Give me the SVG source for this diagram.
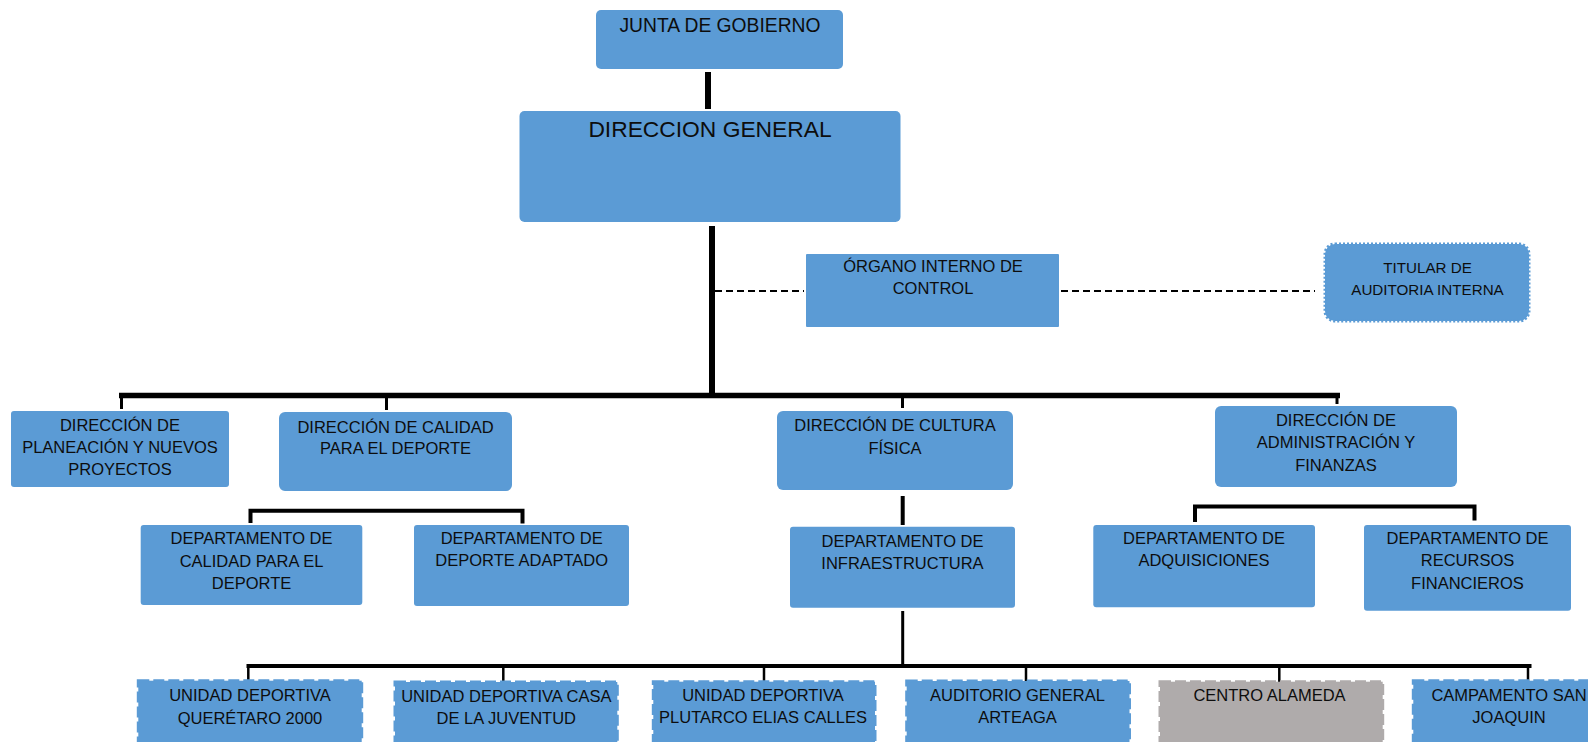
<svg xmlns="http://www.w3.org/2000/svg" width="1588" height="742" viewBox="0 0 1588 742">
<style>
.box{fill:#5b9bd5}
.gray{fill:#afabab}
.dash{stroke-width:3;stroke-dasharray:11 4}
.dot{stroke:#5b9bd5;stroke-width:3;stroke-dasharray:2 2}
text{font-family:"Liberation Sans",Arial,sans-serif;font-size:16.5px;fill:#0d0d0d;text-anchor:middle}
.c{stroke:#000;fill:none}
.d{stroke:#000;stroke-width:2;stroke-dasharray:7 4;fill:none}
</style>
<rect width="1588" height="742" fill="#fff"/>
<g id="connectors">
<line class="c" x1="708" y1="72" x2="708" y2="109" stroke-width="6"/>
<line class="c" x1="712" y1="226" x2="712" y2="398" stroke-width="6"/>
<line class="d" x1="715" y1="291" x2="804" y2="291"/>
<line class="d" x1="1061" y1="291" x2="1315" y2="291"/>
<line class="c" x1="119" y1="395.5" x2="1340" y2="395.5" stroke-width="5.5"/>
<line class="c" x1="121.5" y1="394" x2="121.5" y2="409" stroke-width="3"/>
<line class="c" x1="386.5" y1="394" x2="386.5" y2="410" stroke-width="3"/>
<line class="c" x1="902.5" y1="394" x2="902.5" y2="408" stroke-width="3"/>
<line class="c" x1="1337" y1="394" x2="1337" y2="404" stroke-width="3"/>
<path class="c" d="M250.5,523 V510.7 H522.5 V523.5" stroke-width="4"/>
<line class="c" x1="902.7" y1="496" x2="902.7" y2="525" stroke-width="4"/>
<path class="c" d="M1195,522 V506.5 H1474.5 V520.5" stroke-width="4"/>
<line class="c" x1="902.7" y1="611" x2="902.7" y2="666" stroke-width="3"/>
<line class="c" x1="246.5" y1="666" x2="1531.5" y2="666" stroke-width="4"/>
<line class="c" x1="248.3" y1="665" x2="248.3" y2="680" stroke-width="2.5"/>
<line class="c" x1="503.3" y1="665" x2="503.3" y2="682" stroke-width="2.5"/>
<line class="c" x1="764" y1="665" x2="764" y2="682" stroke-width="2.5"/>
<line class="c" x1="1026" y1="665" x2="1026" y2="682" stroke-width="2.5"/>
<line class="c" x1="1279.3" y1="665" x2="1279.3" y2="682" stroke-width="2.5"/>
<line class="c" x1="1528" y1="665" x2="1528" y2="681" stroke-width="2.5"/>
</g>
<g id="junta">
<rect class="box" x="596" y="10" width="247" height="59" rx="5"/>
<text x="720" y="32" style="font-size:19.3px">JUNTA DE GOBIERNO</text>
</g>
<g id="direccion-general">
<rect class="box" x="519.5" y="111" width="381" height="111" rx="5"/>
<text x="710" y="136.7" style="font-size:22.8px">DIRECCION GENERAL</text>
</g>
<g id="organo">
<rect class="box" x="806" y="254" width="253" height="73" rx="1"/>
<text x="933" y="271.7">ÓRGANO INTERNO DE</text>
<text x="933" y="294.3">CONTROL</text>
</g>
<g id="titular">
<rect class="box dot" x="1325" y="244" width="204" height="77" rx="10"/>
<text x="1427.5" y="273" style="font-size:15.2px">TITULAR DE</text>
<text x="1427.5" y="295" style="font-size:15.2px">AUDITORIA INTERNA</text>
</g>
<g id="planeacion">
<rect class="box" x="11" y="411" width="218" height="76" rx="3"/>
<text x="120" y="430.7">DIRECCIÓN DE</text>
<text x="120" y="452.7">PLANEACIÓN Y NUEVOS</text>
<text x="120" y="475">PROYECTOS</text>
</g>
<g id="calidad">
<rect class="box" x="279" y="412" width="233" height="79" rx="6"/>
<text x="395.5" y="432.7">DIRECCIÓN DE CALIDAD</text>
<text x="395.5" y="454">PARA EL DEPORTE</text>
</g>
<g id="cultura">
<rect class="box" x="777" y="411" width="236" height="79" rx="6"/>
<text x="895" y="431">DIRECCIÓN DE CULTURA</text>
<text x="895" y="454">FÍSICA</text>
</g>
<g id="administracion">
<rect class="box" x="1215" y="406" width="242" height="81" rx="6"/>
<text x="1336" y="425.7">DIRECCIÓN DE</text>
<text x="1336" y="448.3">ADMINISTRACIÓN Y</text>
<text x="1336" y="471">FINANZAS</text>
</g>
<g id="dept-calidad">
<rect class="box" x="140.7" y="525" width="221.6" height="80" rx="3"/>
<text x="251.5" y="544.3">DEPARTAMENTO DE</text>
<text x="251.5" y="567">CALIDAD PARA EL</text>
<text x="251.5" y="589">DEPORTE</text>
</g>
<g id="dept-adaptado">
<rect class="box" x="414" y="525" width="215" height="81" rx="3"/>
<text x="521.7" y="544">DEPARTAMENTO DE</text>
<text x="521.7" y="565.5">DEPORTE ADAPTADO</text>
</g>
<g id="dept-infra">
<rect class="box" x="790" y="526.7" width="225" height="81" rx="3"/>
<text x="902.5" y="546.7">DEPARTAMENTO DE</text>
<text x="902.5" y="568.5">INFRAESTRUCTURA</text>
</g>
<g id="dept-adquisiciones">
<rect class="box" x="1093.3" y="525" width="221.7" height="82.3" rx="3"/>
<text x="1204" y="544">DEPARTAMENTO DE</text>
<text x="1204" y="566">ADQUISICIONES</text>
</g>
<g id="dept-recursos">
<rect class="box" x="1364" y="525" width="207" height="85.7" rx="3"/>
<text x="1467.5" y="544">DEPARTAMENTO DE</text>
<text x="1467.5" y="566">RECURSOS</text>
<text x="1467.5" y="588.5">FINANCIEROS</text>
</g>
<g id="ud-queretaro">
<rect class="box dash" stroke="#5b9bd5" x="138.3" y="680.7" width="223.4" height="80"/>
<text x="250" y="701">UNIDAD DEPORTIVA</text>
<text x="250" y="723.5">QUERÉTARO 2000</text>
</g>
<g id="ud-casa">
<rect class="box dash" stroke="#5b9bd5" x="395" y="682" width="222.3" height="80"/>
<text x="506.3" y="701.7">UNIDAD DEPORTIVA CASA</text>
<text x="506.3" y="724">DE LA JUVENTUD</text>
</g>
<g id="ud-plutarco">
<rect class="box dash" stroke="#5b9bd5" x="653.3" y="681.7" width="221.7" height="80"/>
<text x="763" y="700.7">UNIDAD DEPORTIVA</text>
<text x="763" y="723.3">PLUTARCO ELIAS CALLES</text>
</g>
<g id="auditorio">
<rect class="box dash" stroke="#5b9bd5" x="906.7" y="681" width="222.8" height="80"/>
<text x="1017.5" y="700.7">AUDITORIO GENERAL</text>
<text x="1017.5" y="723.3">ARTEAGA</text>
</g>
<g id="centro-alameda">
<rect class="gray dash" stroke="#afabab" x="1160" y="681.7" width="222.7" height="80"/>
<text x="1269.5" y="700.7">CENTRO ALAMEDA</text>
</g>
<g id="campamento">
<rect class="box dash" stroke="#5b9bd5" x="1413.3" y="680.7" width="192" height="80"/>
<text x="1509" y="700.7">CAMPAMENTO SAN</text>
<text x="1509" y="723.3">JOAQUIN</text>
</g>
</svg>
